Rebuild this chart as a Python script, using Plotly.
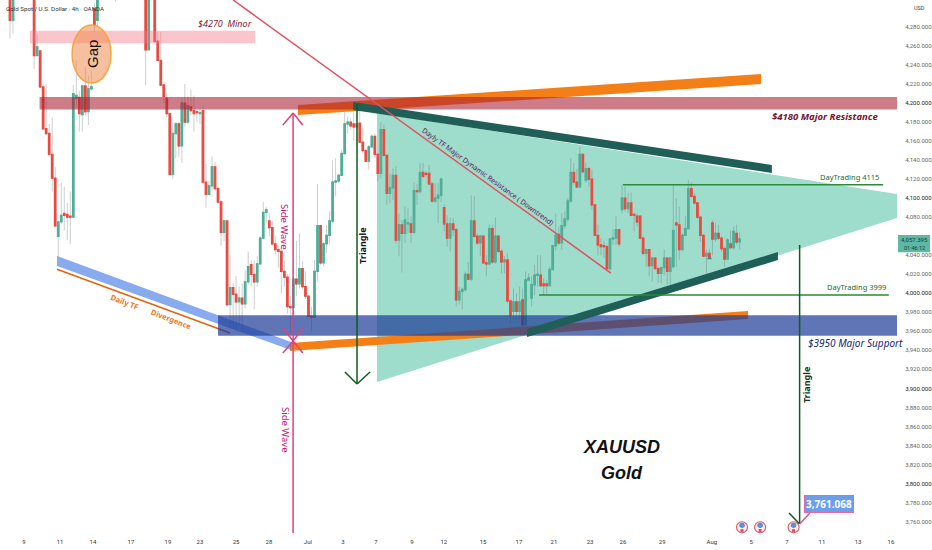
import plotly.graph_objects as go

# 4h candles (bars above the top edge are estimates)
opens = [4320,4287,4315,4330,4340,4335,4345,4340,4330,4250,
4255,4217,4173,4168,4146,4121,4060,4075,4084,4083,
4081,4080,4205,4206,4188,4218,4191,4215,4299,4287,
4312,4325,4340,4330,4320,4335,4320,4340,4345,4350,
4340,4330,4345,4355,4350,4340,4256,4310,4330,4265,
4245,4219,4205,4189,4125,4168,4178,4155,4200,4180,
4196,4192,4191,4189,4192,4117,4104,4113,4133,4110,
4096,4064,4076,3988,4006,3999,3991,3995,3989,4012,
4030,4020,4012,4031,4058,4085,4076,4069,4052,4046,
4044,4023,4017,3986,3985,4015,4010,4026,4007,3997,
3976,3975,4023,4071,4032,4052,4061,4076,4117,4118,
4124,4147,4178,4180,4178,4175,4179,4159,4150,4139,
4154,4165,4146,4126,4172,4145,4105,4111,4124,4056,
4072,4063,4073,4073,4064,4108,4107,4127,4126,4126,
4115,4097,4100,4103,4090,4073,4058,4073,4067,3993,
4002,4004,4020,4015,4076,4060,4053,4060,4032,4031,
4068,4033,4060,4044,4033,4035,3992,3981,3991,3981,
3993,3967,4014,3995,4009,4019,4019,4010,4010,4008,
4025,4050,4062,4053,4071,4078,4097,4127,4117,4112,
4146,4119,4131,4120,4093,4061,4051,4050,4049,4026,
4057,4058,4067,4088,4100,4089,4095,4083,4081,4081,
4058,4042,4046,4029,4037,4026,4021,4027,4037,4023,
4028,4074,4072,4046,4061,4068,4110,4102,4095,4080,
4061,4039,4042,4074,4057,4063,4058,4047,4036,4052,
4048,4063,4054]
highs = [4330,4325,4335,4345,4350,4350,4355,4350,4340,4273,
4256,4220,4220,4178,4185,4133,4075,4117,4112,4095,
4107,4219,4245,4213,4218,4238,4229,4234,4305,4325,
4330,4345,4350,4345,4340,4350,4345,4355,4360,4365,
4355,4350,4360,4365,4360,4350,4330,4316,4340,4275,
4275,4220,4210,4190,4180,4180,4180,4206,4220,4207,
4214,4208,4193,4195,4197,4136,4118,4144,4138,4112,
4098,4077,4077,4040,4011,4018,4007,4010,4024,4044,
4035,4035,4039,4060,4096,4091,4084,4076,4060,4050,
4050,4034,4020,3997,4035,4055,4063,4034,4023,3998,
3986,4035,4115,4072,4054,4072,4086,4140,4142,4126,
4151,4196,4186,4184,4190,4198,4200,4174,4152,4156,
4167,4168,4147,4180,4177,4146,4126,4131,4134,4084,
4077,4091,4089,4081,4117,4115,4137,4137,4128,4135,
4117,4116,4116,4121,4093,4082,4079,4079,4069,4007,
4006,4023,4033,4103,4102,4063,4061,4061,4040,4072,
4072,4080,4061,4046,4039,4042,3993,4005,4000,4007,
4005,4023,4021,4018,4030,4040,4040,4016,4014,4028,
4050,4084,4070,4084,4086,4100,4142,4137,4131,4154,
4147,4137,4133,4130,4094,4072,4058,4055,4051,4058,
4067,4081,4068,4114,4112,4105,4106,4085,4084,4082,
4060,4047,4046,4038,4038,4028,4028,4046,4038,4038,
4114,4100,4091,4063,4081,4119,4117,4105,4096,4081,
4062,4046,4046,4077,4074,4072,4060,4049,4058,4066,
4070,4072,4064]
lows = [4268,4273,4312,4320,4325,4325,4330,4325,4236,4250,
4216,4173,4166,4145,4107,4070,4038,4073,4066,4056,
4052,4079,4195,4170,4170,4187,4177,4213,4275,4280,
4310,4315,4320,4310,4312,4307,4312,4325,4330,4335,
4325,4320,4335,4340,4335,4219,4256,4308,4263,4244,
4218,4200,4185,4124,4120,4142,4143,4137,4175,4178,
4187,4170,4180,4178,4115,4090,4103,4108,4108,4094,
4050,4055,3986,3963,3963,3960,3967,3962,3984,4010,
4007,3983,4007,4030,4058,4074,4060,4050,4041,4027,
4000,4007,3979,3958,3955,3997,4005,4004,3994,3975,
3960,3974,4013,4030,4028,4042,4051,4074,4102,4116,
4124,4146,4168,4172,4160,4154,4158,4147,4138,4130,
4153,4142,4118,4121,4144,4093,4095,4098,4053,4039,
4022,4053,4063,4053,4063,4093,4105,4121,4122,4114,
4095,4095,4074,4096,4065,4049,4044,4060,3986,3988,
3983,4002,4014,4013,4059,4051,4039,4031,4018,4029,
4031,4031,4042,4021,4021,3990,3968,3972,3972,3972,
3965,3965,4013,3986,3998,4007,4007,3998,3999,4007,
4025,4045,4051,4046,4068,4075,4095,4114,4111,4111,
4126,4116,4112,4088,4060,4040,4040,4037,4025,4024,
4051,4051,4049,4084,4086,4084,4081,4065,4070,4057,
4040,4028,4018,4012,4025,4011,4010,4019,4009,4009,
4026,4028,4035,4044,4060,4067,4101,4093,4078,4054,
4038,4021,4037,4040,4054,4056,4044,4028,4035,4047,
4046,4051,4046]
closes = [4287,4310,4330,4340,4335,4345,4340,4330,4250,4259,
4217,4173,4168,4146,4121,4071,4075,4082,4082,4080,
4080,4210,4208,4189,4218,4191,4215,4217,4282,4312,
4325,4340,4330,4320,4335,4320,4340,4345,4350,4340,
4330,4345,4355,4350,4340,4256,4320,4314,4265,4245,
4219,4207,4189,4125,4168,4178,4155,4200,4180,4197,
4192,4189,4190,4190,4117,4104,4113,4133,4110,4096,
4064,4076,3988,4006,3999,3991,3995,3989,4012,4028,
4020,4012,4031,4058,4085,4088,4069,4052,4046,4044,
4023,4017,3986,3985,4015,4010,4026,4007,3997,3976,
3975,4023,4071,4032,4052,4061,4076,4117,4118,4124,
4147,4178,4180,4176,4175,4178,4159,4150,4139,4154,
4165,4146,4126,4172,4145,4105,4111,4124,4056,4072,
4063,4077,4074,4064,4108,4107,4127,4123,4125,4115,
4097,4100,4103,4120,4073,4058,4073,4067,3993,4002,
4004,4020,4015,4076,4060,4053,4060,4032,4031,4068,
4033,4060,4044,4033,4035,3992,3977,3991,3981,3991,
3967,4014,4016,4009,4019,4020,4008,4008,4008,4025,
4050,4061,4053,4071,4078,4097,4127,4117,4112,4146,
4128,4131,4120,4093,4061,4051,4049,4049,4026,4057,
4058,4067,4052,4100,4089,4095,4082,4082,4075,4058,
4042,4046,4029,4037,4026,4021,4027,4037,4023,4037,
4066,4072,4046,4061,4068,4110,4102,4095,4080,4061,
4039,4042,4038,4057,4063,4058,4047,4036,4056,4048,
4065,4054,4057]

# Axis labels
x_tick_bars = [4.6,16.6,27.5,40.1,52.4,63,75,85.9,98.8,110.4,121.4,133.3,143.9,156.9,
               168.8,180.4,192.4,203.3,216.3,232.8,245.8,257.7,269.3,281.3,292.2]
x_tick_labels = ["9","11","14","17","19","23","25","28","Jul","3","7","9","12","15",
                 "17","21","23","26","29","Aug","5","7","11","13","16"]
y_ticks = list(range(3760, 4281, 20))

# Event flags
flag_bars = [242.8, 248.8, 259.9]

# Drawings on the chart, in (bar, price)
minor_band = (6.6, 81.3, 4263, 4276)
major_res_band = (9.8, 294.2, 4193.3, 4206.4)
major_sup_band = (69, 294.2, 3955.4, 3977)
blue_wedge = [(15.6,4039.2),(93.2,3948.8),(93.2,3940.4),(15.6,4028.7)]
orange_low = [(92.9,3947.7),(244.8,3981.4),(244.8,3973),(92.9,3939.3)]
orange_high = [(95.5,4198),(249.1,4230.6),(249.1,4220.1),(95.5,4187.5)]
teal_top = [(113.8,4201.1),(252.7,4134.9),(252.7,4126.5),(113.8,4192.7)]
teal_bottom = [(171.5,3962.5),(254.7,4043.4),(254.7,4035),(171.5,3954)]
triangle = [(121.7,4189.6),(294.2,4104.4),(294.2,4079.2),(121.7,3906.7)]

bars = list(range(len(opens)))
fig = go.Figure()

# wicks first, then bodies on top
WICK = "rgba(95,105,105,0.36)"
fig.add_trace(go.Candlestick(
    x=bars, open=closes, high=highs, low=lows, close=closes,
    increasing=dict(line=dict(color=WICK, width=0.9), fillcolor="rgba(0,0,0,0)"),
    decreasing=dict(line=dict(color=WICK, width=0.9), fillcolor="rgba(0,0,0,0)"),
    hoverinfo="skip", showlegend=False))
body_hi = [max(a, b) for a, b in zip(opens, closes)]
body_lo = [min(a, b) for a, b in zip(opens, closes)]
fig.add_trace(go.Candlestick(
    x=bars, open=opens, high=body_hi, low=body_lo, close=closes,
    increasing=dict(line=dict(color="#4fae96", width=1.3), fillcolor="#4fae96"),
    decreasing=dict(line=dict(color="#ea4a40", width=1.3), fillcolor="#ea4a40"),
    hoverinfo="skip", showlegend=False))

# flags
flag_y = [3754] * 3
fig.add_trace(go.Scatter(x=flag_bars, y=flag_y, mode="markers", showlegend=False, hoverinfo="skip",
    marker=dict(size=11, color="#fdeeee", line=dict(color="#e0606a", width=1.2))))
fig.add_trace(go.Scatter(x=flag_bars, y=[3756]*3, mode="markers", showlegend=False, hoverinfo="skip",
    marker=dict(size=5.5, color="#5b8fe0", symbol="circle")))
fig.add_trace(go.Scatter(x=flag_bars, y=[3750.5]*3, mode="markers", showlegend=False, hoverinfo="skip",
    marker=dict(size=3, color="#e0505a", symbol="square")))
fig.add_trace(go.Scatter(x=[232], y=[4037], mode="markers", showlegend=False, hoverinfo="skip",
    marker=dict(size=4.5, color="#3b8f7f", symbol="triangle-up")))


def poly(points, fill, line_color=None, line_width=0, layer="above"):
    path = "M " + " L ".join(f"{a},{b}" for a, b in points) + " Z"
    return dict(type="path", path=path, xref="x", yref="y", fillcolor=fill, layer=layer,
                line=dict(color=line_color or "rgba(0,0,0,0)", width=line_width))


def seg(x0, y0, x1, y1, color, width=1.5):
    return dict(type="line", x0=x0, y0=y0, x1=x1, y1=y1, xref="x", yref="y",
                line=dict(color=color, width=width))


def band(spec, fill):
    return dict(type="rect", x0=spec[0], x1=spec[1], y0=spec[2], y1=spec[3], xref="x", yref="y",
                fillcolor=fill, line=dict(width=0))


PINK = "#e0407e"
DGREEN = "#0f5c1f"
LGREEN = "#2a8a36"
shapes = [
    poly(triangle, "#9edccb", layer="below"),
    poly(orange_low, "#f57f17"),
    poly(orange_high, "#f57f17"),
    band(minor_band, "rgba(245,120,130,0.42)"),
    band(major_res_band, "rgba(170,30,50,0.58)"),
    poly(blue_wedge, "rgba(50,110,230,0.58)"),
    seg(15.6, 4025.2, 73, 3958.3, "#e2640f", 1.6),
    band(major_sup_band, "rgba(28,58,150,0.70)"),
    poly(teal_top, "#1f5f58"),
    poly(teal_bottom, "#1f5f58"),
    seg(74, 4308.4, 199.3, 4021.3, "#e0505f", 1.5),
    seg(203.3, 4114.2, 289.6, 4114.2, LGREEN, 1.5),
    seg(175.5, 3998.2, 291.5, 3998.2, LGREEN, 1.5),
    # side wave arrows
    seg(93.9, 4189.6, 93.9, 3748, PINK),
    seg(90.5, 4177, 93.9, 4189.6, PINK), seg(97.1, 4177, 93.9, 4189.6, PINK),
    seg(90.5, 3963.5, 93.9, 3949.8, PINK), seg(97.1, 3963.5, 93.9, 3949.8, PINK),
    seg(90.5, 3937.2, 93.9, 3949.8, PINK), seg(97.1, 3937.2, 93.9, 3949.8, PINK),
    # triangle arrows
    seg(115.1, 4199, 115.1, 3904.6, DGREEN),
    seg(111.1, 3917.2, 115.1, 3904.6, DGREEN), seg(119.4, 3917.2, 115.1, 3904.6, DGREEN),
    seg(261.9, 4050.8, 261.9, 3757.4, DGREEN),
    seg(258.4, 3769, 261.9, 3757.4, DGREEN),
    seg(265.3, 3769, 261.9, 3757.4, "#d05a9a"),
    # gap ellipse
    dict(type="circle", x0=20.6, x1=33.5, y0=4221.1, y1=4282.1, xref="x", yref="y",
         fillcolor="rgba(238,140,80,0.55)", line=dict(color="#f4a63f", width=1.5)),
    # last price box
    dict(type="rect", xref="paper", yref="y", x0=1.0011, x1=1.0368, y0=4043.1, y1=4061.3,
         fillcolor="#5fb8a3", line=dict(width=0)),
]


def note(text, x, y, size, color, rot=0, bold=False, italic=False, xref="x", xanchor="center", family="Noto Sans"):
    if bold:
        text = f"<b>{text}</b>"
    if italic:
        text = f"<i>{text}</i>"
    return dict(text=text, x=x, y=y, xref=xref, yref="y", showarrow=False, textangle=rot,
                xanchor=xanchor, yanchor="middle", font=dict(size=size, color=color, family=family))


annotations = [
    note("Gold Spot / U.S. Dollar · 4h · OANDA", -2, 4299, 6.2, "#333333", xanchor="left", family="Roboto"),
    note("$4270  Minor", 71.3, 4284.2, 9, "#7a1a3a", italic=True),
    note("$4180 Major Resistance", 270.3, 4185.4, 9.5, "#7a1230", italic=True, bold=True),
    note("$3950 Major Support", 280.3, 3947.7, 10, "#14286e", italic=True),
    note("Side Wave", 91.2, 4069.7, 9.5, "#c21a6f", rot=90),
    note("Side Wave", 91.2, 3856.3, 9.5, "#c21a6f", rot=90),
    note("Triangle", 116.7, 4049.7, 9, "#111111", rot=-90, bold=True),
    note("Triangle", 264.4, 3903.6, 9, "#0b3d20", rot=-90, bold=True),
    note("Gap", 27.2, 4251.6, 15, "#111111", rot=-90, family="Liberation Sans"),
    note("Daily TF", 38.1, 3990.8, 7.5, "#e8781e", rot=21, bold=True),
    note("Divergence", 53.4, 3973, 7.5, "#e8781e", rot=21, bold=True),
    note("Dayly TF Major Dynamic Resistance ( Downtrend)", 158.5, 4123.3, 7, "#5b1a5e", rot=36),
    note("DayTrading 4115", 278.6, 4122.6, 7.5, "#1d6b2f"),
    note("DayTrading 3999", 280.6, 4007, 7.5, "#1d6b2f"),
    note("XAUUSD", 202.7, 3838.4, 18, "#111111", italic=True, bold=True, family="Liberation Sans"),
    note("Gold", 203, 3811, 18, "#111111", italic=True, bold=True, family="Liberation Sans"),
    note("USD", 1.0256, 4300, 5.5, "#444444", xref="paper", family="Roboto"),
    note("4,057.395", 1.0190, 4057, 6, "#0f3d33", xref="paper", family="Roboto"),
    note("01:46:12", 1.0190, 4047.6, 5.5, "#0f3d33", xref="paper", family="Roboto"),
    dict(text="<b>3,761.068</b>", x=271.8, y=3778.4, xref="x", yref="y", showarrow=False,
         font=dict(size=10, color="white", family="Noto Sans"), bgcolor="#6d9eeb",
         bordercolor="#e766b0", borderwidth=1, borderpad=1),
]

major = {3800, 3900, 4000, 4100, 4200}
y_labels = []
for v in y_ticks:
    s = f"{v:,}.000"
    y_labels.append(f'<span style="color:#222222">{s}</span>' if v in major else s)
# the live-price box sits over the labels it would hide
y_labels[y_ticks.index(4060)] = " "

fig.update_layout(
    width=932, height=550, margin=dict(l=0, r=35, t=0, b=16, pad=0), autosize=False,
    paper_bgcolor="white", plot_bgcolor="white", showlegend=False,
    shapes=shapes, annotations=annotations,
    xaxis=dict(range=[-3.317, 294.2], tickmode="array", tickvals=x_tick_bars, ticktext=x_tick_labels,
               showgrid=False, zeroline=False, showline=False, rangeslider=dict(visible=False),
               ticks="outside", ticklen=2, tickcolor="rgba(0,0,0,0)",
               tickfont=dict(size=6, color="#333333", family="Roboto")),
    yaxis=dict(range=[3746.9, 4308.4], side="right", tickmode="array", tickvals=y_ticks, ticktext=y_labels,
               showgrid=False, zeroline=False, showline=False,
               ticks="outside", ticklen=6, tickcolor="rgba(0,0,0,0)",
               tickfont=dict(size=6, color="#666666", family="Roboto")),
)
fig.write_html("out.html", config={"displayModeBar": False},
               post_script="document.body.style.margin='0';document.body.style.overflow='hidden';")
